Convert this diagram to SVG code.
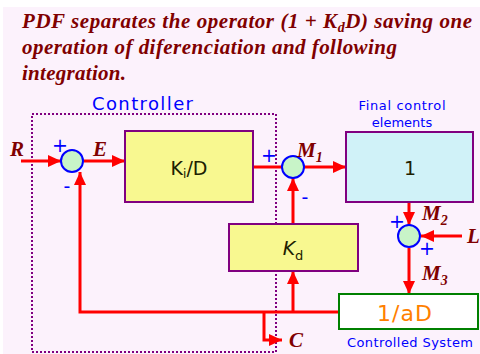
<svg xmlns="http://www.w3.org/2000/svg" width="480" height="354" viewBox="0 0 480 354">
<defs>
<marker id="ah" markerUnits="userSpaceOnUse" markerWidth="14" markerHeight="14" viewBox="0 0 14 14" refX="13" refY="7" orient="auto">
<path d="M0,1 L13,7 L0,13 Z" fill="#FF0000"/>
</marker>
</defs>
<style>
.title{font-family:"Liberation Serif","Times New Roman",serif;font-weight:bold;font-style:italic;font-size:21px;fill:#800000}
.lab{font-family:"Liberation Serif","Times New Roman",serif;font-weight:bold;font-style:italic;font-size:21px;fill:#800000}
.sub{font-size:14px}
.blue{font-family:"DejaVu Sans",Verdana,sans-serif;fill:#0000FF}
.sign{font-family:"DejaVu Sans",Verdana,sans-serif;fill:#0000FF;font-size:19px;text-anchor:middle;dominant-baseline:central}
.blk{fill:#F8F890;stroke:#800080;stroke-width:2}
.sum{fill:#C8F4C8;stroke:#0000FF;stroke-width:2}
.wire{fill:none;stroke:#FF0000;stroke-width:3}
.arr{marker-end:url(#ah)}
.btxt{font-family:"DejaVu Sans",Verdana,sans-serif;fill:#202000;font-size:19px;text-anchor:middle}
</style>
<rect x="0" y="0" width="480" height="354" fill="#FFFFFF"/>
<rect x="3" y="7" width="477" height="347" fill="#FCF2FC"/>
<g id="title">
<text class="title" x="22" y="28" textLength="450" lengthAdjust="spacing">PDF separates the operator (1 + K<tspan class="sub" dy="4">d</tspan><tspan dy="-4">D) saving one</tspan></text>
<text class="title" x="22" y="54" textLength="375" lengthAdjust="spacing">operation of diferenciation and following</text>
<text class="title" x="22" y="80" textLength="104" lengthAdjust="spacing">integration.</text>
</g>
<g id="controller">
<rect x="32" y="114" width="244" height="238" fill="none" stroke="#800080" stroke-width="2" stroke-dasharray="2 2"/>
<text class="blue" x="92" y="110" font-size="18" textLength="101" lengthAdjust="spacing">Controller</text>
</g>
<g id="connectors">
<line class="wire arr" x1="21" y1="161" x2="61" y2="161"/>
<line class="wire arr" x1="84" y1="161" x2="125" y2="161"/>
<line class="wire" x1="253" y1="167" x2="282" y2="167"/>
<line class="wire arr" x1="304" y1="167" x2="346" y2="167"/>
<line class="wire arr" x1="409" y1="203" x2="409" y2="225"/>
<line class="wire arr" x1="462" y1="236" x2="421" y2="236"/>
<line class="wire arr" x1="409" y1="248" x2="409" y2="294"/>
<polyline class="wire arr" points="339,312 80,312 80,172"/>
<line class="wire arr" x1="293" y1="312" x2="293" y2="271"/>
<line class="wire arr" x1="293" y1="224" x2="293" y2="178"/>
<polyline class="wire arr" points="264,312 264,340 282,340"/>
</g>
<g id="sum1">
<circle class="sum" cx="72" cy="161" r="11"/>
<text class="sign" x="60" y="145">+</text>
<text class="sign" x="67" y="186">-</text>
</g>
<g id="kid">
<rect class="blk" x="125" y="131" width="128" height="71"/>
<text class="btxt" x="189" y="175" font-size="20">K<tspan font-size="12" dy="3">i</tspan><tspan dy="-3">/D</tspan></text>
</g>
<g id="sum2">
<circle class="sum" cx="293" cy="167" r="11"/>
<text class="sign" x="269" y="155">+</text>
<text class="sign" x="305" y="197">-</text>
</g>
<g id="final">
<rect x="346" y="132" width="127" height="70" fill="#D0F2F8" stroke="#800080" stroke-width="2"/>
<text class="btxt" x="410" y="175" font-size="20">1</text>
<text class="blue" x="402" y="110" font-size="13" text-anchor="middle" textLength="87" lengthAdjust="spacing">Final control</text>
<text class="blue" x="402" y="127" font-size="13" text-anchor="middle">elements</text>
</g>
<g id="kd">
<rect class="blk" x="229" y="224" width="129" height="47"/>
<text class="btxt" x="293" y="255" font-size="20"><tspan font-style="italic">K</tspan><tspan font-size="13" dy="5">d</tspan></text>
</g>
<g id="sum3">
<circle class="sum" cx="409" cy="236" r="11"/>
<text class="sign" x="397" y="221">+</text>
<text class="sign" x="427" y="248">+</text>
</g>
<g id="plant">
<rect x="339" y="294" width="139" height="35" fill="#FFFFFF" stroke="#008000" stroke-width="2"/>
<text x="405" y="321" font-family="DejaVu Sans, Verdana, sans-serif" font-size="22" fill="#FF8000" text-anchor="middle" letter-spacing="1">1/aD</text>
<text class="blue" x="410" y="347" font-size="13" text-anchor="middle" textLength="126" lengthAdjust="spacing">Controlled System</text>
</g>
<g id="labels">
<text class="lab" x="10" y="156">R</text>
<text class="lab" x="93" y="156">E</text>
<text class="lab" x="297" y="157">M<tspan class="sub" dy="5">1</tspan></text>
<text class="lab" x="422" y="220">M<tspan class="sub" dy="5">2</tspan></text>
<text class="lab" x="422" y="280">M<tspan class="sub" dy="5">3</tspan></text>
<text class="lab" x="467" y="243">L</text>
<text class="lab" x="289" y="347">C</text>
</g>
</svg>
